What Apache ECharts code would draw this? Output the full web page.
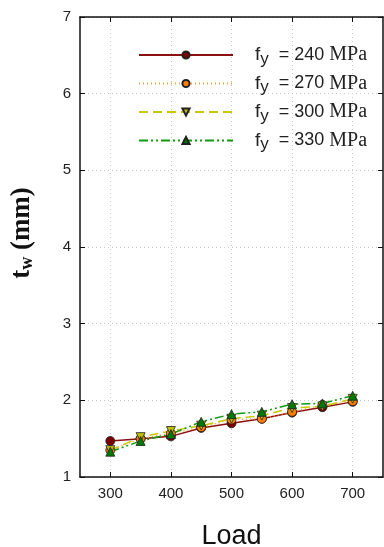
<!DOCTYPE html>
<html>
<head>
<meta charset="utf-8">
<title>tw vs Load</title>
<script src="https://cdn.jsdelivr.net/npm/echarts@6/dist/echarts.min.js"></script>
<style>
  html, body { margin: 0; padding: 0; background: #fff; }
  #main { width: 384px; height: 547px; }
</style>
</head>
<body>
<div id="main"></div>
<script>
var loads = [300, 350, 400, 450, 500, 550, 600, 650, 700];
var names = ['240', '270', '300', '330'];
var tw240 = [1.47, 1.50, 1.53, 1.64, 1.70, 1.76, 1.84, 1.91, 1.98];
var tw270 = [1.35, 1.50, 1.57, 1.65, 1.75, 1.76, 1.85, 1.94, 1.99];
var tw300 = [1.35, 1.52, 1.60, 1.67, 1.76, 1.80, 1.90, 1.92, 2.02];
var tw330 = [1.33, 1.47, 1.56, 1.72, 1.82, 1.85, 1.95, 1.96, 2.06];
var xTicks = [300, 400, 500, 600, 700];

function pairs(ys) {
  return loads.map(function (x, i) { return [x, ys[i]]; });
}

var myChart = echarts.init(document.getElementById('main'));

var black = '#111';
var grid = { type: [1, 3], color: '#c8c8c8', width: 1 };
var sans = 'Liberation Sans, Arial';
var serif = 'Liberation Serif, Times New Roman';

function mkSeries(name, ys, color, fill, lineType, symbol, rotate) {
  return {
    name: name,
    type: 'line',
    data: pairs(ys),
    symbol: symbol,
    symbolSize: 9,
    symbolRotate: rotate || 0,
    lineStyle: { color: color, width: 1.5, type: lineType },
    itemStyle: { color: fill, borderColor: '#222', borderWidth: 0.8 },
    emphasis: { disabled: true }
  };
}

var option = {
  animation: false,
  backgroundColor: '#fff',
  grid: { left: 80, right: 1, top: 17, bottom: 70, outerBoundsMode: 'none', containLabel: false },
  legend: {
    left: 138,
    top: 45,
    orient: 'vertical',
    itemWidth: 94,
    itemHeight: 9,
    itemGap: 6,
    padding: 0,
    data: names,
    formatter: function (n) {
      return '{f|f}{s|y}{t|  = ' + n + ' }{m|MPa}';
    },
    textStyle: {
      rich: {
        f: { fontFamily: sans, fontSize: 19, color: '#222', padding: [0, 0, 0, 17], height: 22 },
        s: { fontFamily: sans, fontSize: 17, color: '#222', verticalAlign: 'bottom', padding: [8, 0, 0, 0] },
        t: { fontFamily: sans, fontSize: 18, color: '#222' },
        m: { fontFamily: serif, fontSize: 20, color: '#222' }
      }
    }
  },
  xAxis: [{
    type: 'value',
    min: 250,
    max: 750,
    name: 'Load',
    nameLocation: 'middle',
    nameGap: 46,
    nameTextStyle: { fontFamily: sans, fontSize: 27, color: '#111' },
    axisLine: { lineStyle: { color: black, width: 1.5 } },
    axisTick: { inside: true, length: 5, customValues: xTicks, lineStyle: { color: black } },
    axisLabel: { customValues: xTicks, fontFamily: sans, fontSize: 15, color: '#222', margin: 9 },
    splitLine: { show: true, lineStyle: grid }
  }, {
    type: 'value',
    position: 'top',
    min: 250,
    max: 750,
    axisLine: { show: true, lineStyle: { color: black, width: 1.5 } },
    axisTick: { inside: true, length: 5, customValues: xTicks, lineStyle: { color: black } },
    axisLabel: { show: false },
    splitLine: { show: false }
  }],
  yAxis: [{
    type: 'value',
    min: 1,
    max: 7,
    interval: 1,
    name: '{t|t}{s|w}{t| (mm)}',
    nameLocation: 'middle',
    nameRotate: 90,
    nameGap: 44,
    nameTextStyle: {
      padding: [0, 0, 0, 28],
      rich: {
        t: { fontFamily: serif, fontWeight: 'bold', fontSize: 27, color: '#111' },
        s: { fontFamily: serif, fontWeight: 'bold', fontSize: 18, color: '#111', verticalAlign: 'bottom', padding: [10, 0, 0, 0] }
      }
    },
    axisLine: { show: true, lineStyle: { color: black, width: 1.5 } },
    axisTick: { inside: true, length: 5, lineStyle: { color: black } },
    axisLabel: { fontFamily: sans, fontSize: 15, color: '#222', margin: 9 },
    splitLine: { show: true, lineStyle: grid }
  }, {
    type: 'value',
    position: 'right',
    min: 1,
    max: 7,
    interval: 1,
    axisLine: { show: true, lineStyle: { color: black, width: 1.5 } },
    axisTick: { inside: true, length: 5, lineStyle: { color: black } },
    axisLabel: { show: false },
    splitLine: { show: false }
  }],
  series: [
    mkSeries('240', tw240, '#8b1010', '#7a0000', 'solid', 'circle'),
    mkSeries('270', tw270, '#ff9a30', '#ff8000', [1, 3], 'circle'),
    mkSeries('300', tw300, '#c8c800', '#c0c000', [9, 5], 'triangle', 180),
    mkSeries('330', tw330, '#119911', '#007a00', [9, 3, 2, 3, 2, 3], 'triangle')
  ]
};
myChart.setOption(option);
</script>
</body>
</html>
